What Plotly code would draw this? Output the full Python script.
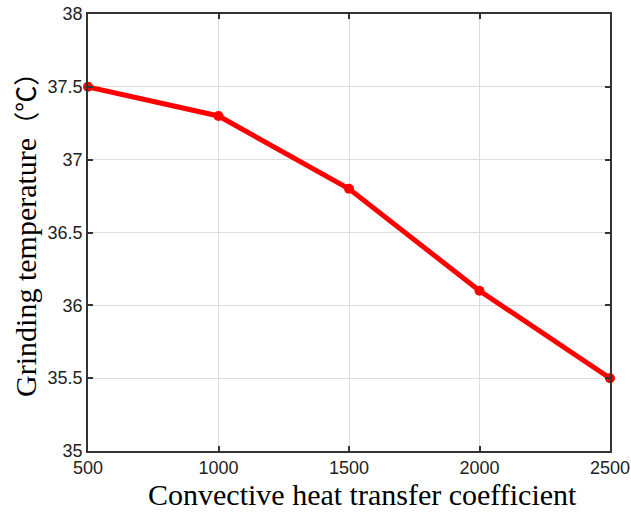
import plotly.graph_objects as go

# Convective heat transfer coefficient vs. grinding temperature
h_coeff = [500, 1000, 1500, 2000, 2500]
temperature = [37.5, 37.3, 36.8, 36.1, 35.5]

x_ticks = [500, 1000, 1500, 2000, 2500]
y_ticks = [35, 35.5, 36, 36.5, 37, 37.5, 38]
y_tick_text = ["35", "35.5", "36", "36.5", "37", "37.5", "38"]

x_title = "Convective heat transfer coefficient"
y_title = ("Grinding temperature"
           "<span style='font-family:Noto Sans CJK SC;font-size:26px'>（℃）</span>")

fig = go.Figure()
fig.add_trace(go.Scatter(
    x=h_coeff, y=temperature,
    mode="lines+markers",
    line=dict(color="#ff0000", width=5),
    marker=dict(color="#ff0000", size=10),
    cliponaxis=False,
    showlegend=False,
))

axis_common = dict(
    showline=True, linecolor="#333333", linewidth=1.5, mirror="ticks",
    ticks="inside", ticklen=5, tickcolor="#333333", tickwidth=1.5,
    showgrid=True, gridcolor="#dcdcdc", gridwidth=1,
    zeroline=False, automargin=False,
    tickfont=dict(family="Liberation Sans, Arial", size=18, color="#222222"),
)

fig.update_xaxes(range=[500, 2500], tickvals=x_ticks, **axis_common)
fig.update_yaxes(range=[35, 38], tickvals=y_ticks, ticktext=y_tick_text, **axis_common)

title_font = dict(family="Liberation Serif, Times New Roman", size=30, color="#000000")
fig.add_annotation(
    text=x_title, xref="paper", yref="paper", x=0.525, y=-0.1,
    xanchor="center", yanchor="middle", showarrow=False, borderpad=0,
    font=title_font,
)
fig.add_annotation(
    text=y_title, xref="paper", yref="paper", x=-0.123, y=0.51,
    xanchor="center", yanchor="middle", textangle=-90, showarrow=False,
    borderpad=0, font=title_font,
)

fig.update_layout(
    width=631, height=513,
    margin=dict(l=88, r=21, t=14, b=62),
    paper_bgcolor="white", plot_bgcolor="white",
)

fig.write_html("out.html")
